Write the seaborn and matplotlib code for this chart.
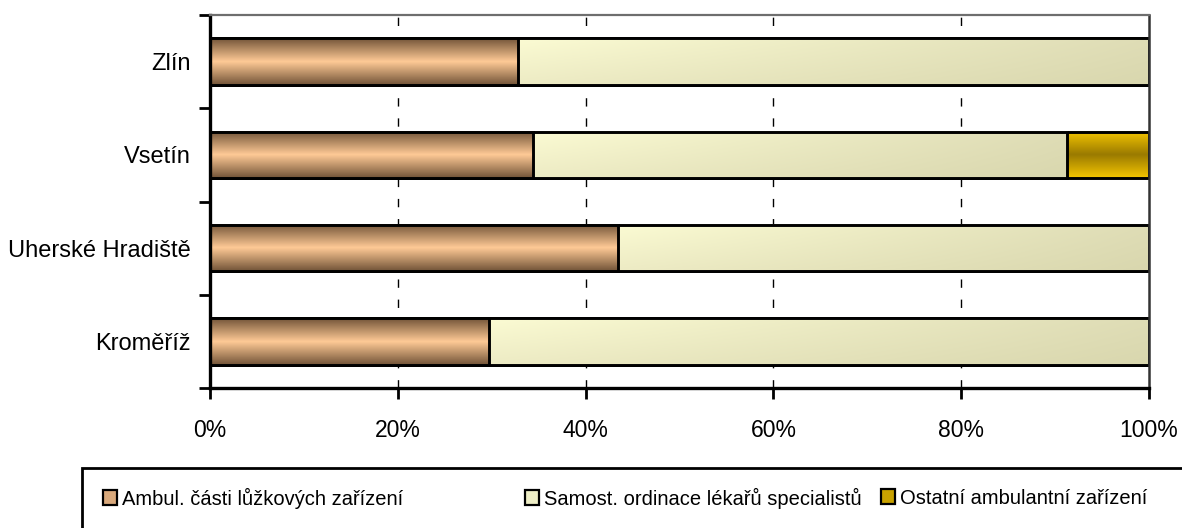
import numpy as np
import pandas as pd
import matplotlib
matplotlib.use("Agg")
import matplotlib.pyplot as plt
import seaborn as sns
from matplotlib.colors import to_rgb
from matplotlib.patches import Rectangle, Patch

# ---- data ----
districts = ["Zlín", "Vsetín", "Uherské Hradiště", "Kroměříž"]
ambul = [32.8, 34.4, 43.5, 29.7]
samost = [67.2, 56.9, 56.5, 70.3]
ostatni = [0.0, 8.7, 0.0, 0.0]
series_names = ["Ambul. části lůžkových zařízení",
                "Samost. ordinace lékařů specialistů",
                "Ostatní ambulantní zařízení"]
x_ticks = [0, 20, 40, 60, 80, 100]
x_tick_labels = ["0%", "20%", "40%", "60%", "80%", "100%"]

sns.set_theme(style="white")
plt.rcParams["font.family"] = ["Liberation Sans", "DejaVu Sans"]
plt.rcParams["text.color"] = "black"
plt.rcParams["xtick.color"] = "black"
plt.rcParams["ytick.color"] = "black"

df = pd.DataFrame({"district": districts})
df["c1"] = np.array(ambul)
df["c2"] = df["c1"] + np.array(samost)
df["c3"] = df["c2"] + np.array(ostatni)

fig = plt.figure(figsize=(11.82, 5.28), dpi=100)
ax = fig.add_axes([210 / 1182, 1 - 388 / 528, (1149 - 210) / 1182, (388 - 15) / 528])

legend_colors = ["#D9A97C", "#EEEEC6", "#C9A200"]


def vgrad(edge, mid, n=64):
    e = np.array(to_rgb(edge)); m = np.array(to_rgb(mid))
    t = np.abs(np.linspace(-1, 1, n))[:, None]
    return (m * (1 - t) + e * t)[:, None, :]


def samost_grad(n=64, m=64):
    tl = np.array(to_rgb("#FBFBD3")); tr = np.array(to_rgb("#DFDDB6"))
    bl = np.array(to_rgb("#EDEBC4")); br = np.array(to_rgb("#D9D7AE"))
    v = np.linspace(0, 1, n)[:, None, None]
    h = np.linspace(0, 1, m)[None, :, None]
    top = tl * (1 - h) + tr * h
    bot = bl * (1 - h) + br * h
    return top * (1 - v) + bot * v


grads = [vgrad("#735539", "#FFCA96"),
         samost_grad(),
         vgrad("#F4C500", "#9A7A00")]

cols = ["c3", "c2", "c1"]
zs = [2, 3, 4]
series_idx = [2, 1, 0]
prev_cols = {"c3": "c2", "c2": "c1", "c1": None}
for col, z, si in zip(cols, zs, series_idx):
    n0 = len(ax.patches)
    sns.barplot(data=df, x=col, y="district", orient="h", width=0.5, ax=ax,
                color=legend_colors[si], edgecolor="black", linewidth=2.1,
                zorder=z + 0.2)
    new = ax.patches[n0:]
    for i, p in enumerate(new):
        p.set_facecolor("none")
        p.set_zorder(z + 0.2)
        x0 = df[prev_cols[col]].iloc[i] if prev_cols[col] else 0.0
        x1 = p.get_x() + p.get_width()
        if x1 - x0 <= 0.01:
            continue
        y0 = p.get_y(); h = p.get_height()
        ax.imshow(grads[si], extent=(x0, x1, y0 + h, y0), aspect="auto",
                  zorder=z, interpolation="bilinear")

ax.set_xlim(0, 100)
ax.set_ylim(3.5, -0.5)
ax.set_xlabel("")
ax.set_ylabel("")
ax.set_xticks(x_ticks)
ax.set_xticklabels(x_tick_labels, fontsize=16.5)
ax.set_yticks(range(len(districts)))
ax.set_yticklabels(districts, fontsize=17)
ax.set_yticks(np.arange(-0.5, len(districts), 1.0), minor=True)
ax.tick_params(axis="y", which="major", length=0, pad=14)
ax.tick_params(axis="y", which="minor", length=8, width=2, color="black", direction="out", left=True)
ax.tick_params(axis="x", which="major", length=8, width=2, color="black", direction="out", pad=14.5, bottom=True)

for xv in x_ticks[1:-1]:
    ax.axvline(xv, color="black", lw=1.0, ls=(0, (6, 8.5)), zorder=1)

for s in ["left", "bottom"]:
    ax.spines[s].set_color("black")
    ax.spines[s].set_linewidth(2.4)
ax.spines["top"].set_color("#6E6E6E")
ax.spines["top"].set_linewidth(1.6)
ax.spines["right"].set_color("#333333")
ax.spines["right"].set_linewidth(1.8)
for s in ax.spines.values():
    s.set_zorder(10)

# legend: one entry per series, placed like the reference
leg_x = [103, 525, 881]
for name, c, lx in zip(series_names, legend_colors, leg_x):
    h = Patch(facecolor=c, edgecolor="black", linewidth=1.6)
    fig.legend([h], [name], loc="center left",
               bbox_to_anchor=(lx / 1182, 1 - 498 / 528), frameon=False,
               fontsize=14.5, handlelength=0.7, handleheight=0.7, handletextpad=0.25,
               borderpad=0, borderaxespad=0)
fig.add_artist(Rectangle((82 / 1182, -0.2), 1.0, 0.2 + (1 - 468 / 528),
                         transform=fig.transFigure, fill=False,
                         edgecolor="black", linewidth=2))

fig.savefig("out.png", dpi=100)
